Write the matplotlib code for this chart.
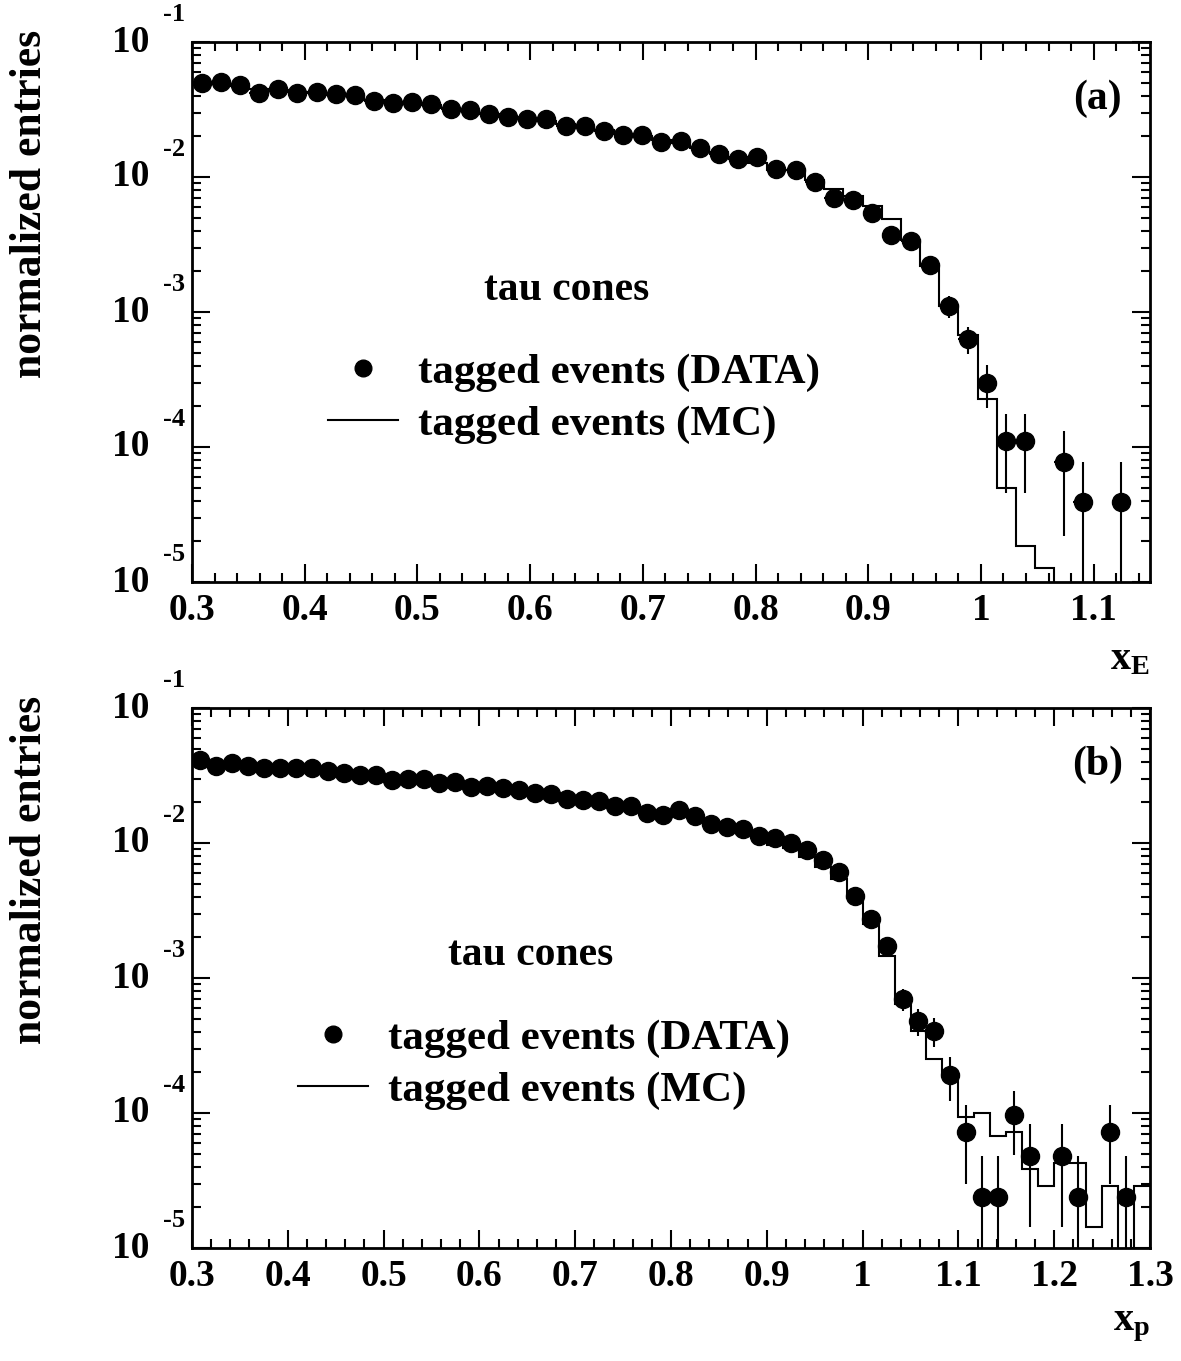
import numpy as np
import matplotlib
matplotlib.use('Agg')
import matplotlib.pyplot as plt
from matplotlib.ticker import MultipleLocator, LogLocator, NullFormatter, FormatStrFormatter
from matplotlib.lines import Line2D

plt.rcParams['font.family'] = ['Liberation Serif', 'DejaVu Serif']
plt.rcParams['font.weight'] = 'bold'
plt.rcParams['mathtext.fontset'] = 'custom'
plt.rcParams['mathtext.rm'] = 'Liberation Serif:bold'
plt.rcParams['mathtext.bf'] = 'Liberation Serif:bold'
plt.rcParams['mathtext.it'] = 'Liberation Serif:bold'

nan = np.nan

# panel (a): x_E, 50 bins from 0.3 to 1.15
xe_edges = np.linspace(0.3, 1.15, 51)
xe_data = [0.0494, 0.0508, 0.0480, 0.0421, 0.0449, 0.0417, 0.0427, 0.0412, 0.0405, 0.0367,
           0.0352, 0.0361, 0.0347, 0.0317, 0.0313, 0.0291, 0.0277, 0.0268, 0.0269, 0.0240,
           0.0239, 0.0220, 0.0205, 0.0205, 0.0183, 0.0184, 0.0163, 0.0147, 0.0136, 0.0141,
           0.0115, 0.0113, 0.0092, 0.0070, 0.0068, 0.0054, 0.00372, 0.00338, 0.00223, 0.00111,
           0.00063, 0.00030, 1.11e-4, 1.11e-4, nan, 7.7e-5, 3.9e-5, nan, 3.9e-5, nan]
xe_err = [1.4e-3, 1.4e-3, 1.37e-3, 1.28e-3, 1.32e-3, 1.27e-3, 1.29e-3, 1.27e-3, 1.26e-3, 1.2e-3,
          1.17e-3, 1.19e-3, 1.16e-3, 1.11e-3, 1.1e-3, 1.07e-3, 1.04e-3, 1.02e-3, 1.02e-3, 0.97e-3,
          0.97e-3, 0.93e-3, 0.89e-3, 0.89e-3, 0.84e-3, 0.85e-3, 0.80e-3, 0.76e-3, 0.73e-3, 0.74e-3,
          0.67e-3, 0.66e-3, 0.60e-3, 0.52e-3, 0.51e-3, 0.46e-3, 0.38e-3, 0.36e-3, 0.29e-3, 0.2e-3,
          1.45e-4, 1.05e-4, 6.5e-5, 6.5e-5, 0, 5.5e-5, 3.9e-5, 0, 3.9e-5, 0]
xe_mc = [0.0497, 0.0490, 0.0472, 0.0450, 0.0440, 0.0428, 0.0420, 0.0408, 0.0395, 0.0375,
         0.0360, 0.0352, 0.0340, 0.0322, 0.0310, 0.0293, 0.0280, 0.0270, 0.0262, 0.0246,
         0.0236, 0.0222, 0.0210, 0.0200, 0.0188, 0.0178, 0.0165, 0.0152, 0.0141, 0.0126,
         0.0113, 0.0113, 0.0095, 0.0081, 0.0072, 0.0061, 0.0049, 0.0034, 0.0022, 0.0011,
         0.00068, 2.25e-4, 4.94e-5, 1.86e-5, 1.26e-5, 0, 0, 0, 0, 0]

# panel (b): x_p, 60 bins from 0.3 to 1.3
xp_edges = np.linspace(0.3, 1.3, 61)
xp_data = [0.0412, 0.0374, 0.0389, 0.0374, 0.0357, 0.0357, 0.0357, 0.0357, 0.0341, 0.0332,
           0.0319, 0.0319, 0.0293, 0.0298, 0.0298, 0.0277, 0.0284, 0.0261, 0.0264, 0.0254,
           0.0247, 0.0236, 0.0229, 0.0211, 0.0208, 0.0205, 0.0188, 0.0188, 0.0166, 0.0162,
           0.0176, 0.0158, 0.01375, 0.0132, 0.0126, 0.01127, 0.01084, 0.01005, 0.00887, 0.00742,
           0.0061, 0.00405, 0.00274, 0.00172, 6.97e-4, 4.8e-4, 4.06e-4, 1.91e-4, 7.2e-5, 2.4e-5,
           2.4e-5, 9.66e-5, 4.83e-5, nan, 4.83e-5, 2.4e-5, nan, 7.2e-5, 2.4e-5, nan]
xp_err = [9.9e-4, 9.5e-4, 9.7e-4, 9.5e-4, 9.3e-4, 9.3e-4, 9.3e-4, 9.3e-4, 9.0e-4, 8.9e-4,
          8.7e-4, 8.7e-4, 8.4e-4, 8.5e-4, 8.5e-4, 8.2e-4, 8.3e-4, 7.9e-4, 8.0e-4, 7.8e-4,
          7.7e-4, 7.5e-4, 7.4e-4, 7.1e-4, 7.1e-4, 7.0e-4, 6.7e-4, 6.7e-4, 6.3e-4, 6.2e-4,
          6.5e-4, 6.2e-4, 5.7e-4, 5.6e-4, 5.5e-4, 5.2e-4, 5.1e-4, 4.9e-4, 4.6e-4, 4.2e-4,
          3.8e-4, 3.1e-4, 2.6e-4, 2.0e-4, 1.28e-4, 1.05e-4, 9.8e-5, 6.8e-5, 4.2e-5, 2.4e-5,
          2.4e-5, 4.8e-5, 3.4e-5, 0, 3.4e-5, 2.4e-5, 0, 4.2e-5, 2.4e-5, 0]
xp_mc = [0.0400, 0.0385, 0.0380, 0.0372, 0.0365, 0.0360, 0.0355, 0.0350, 0.0342, 0.0333,
         0.0322, 0.0312, 0.0302, 0.0296, 0.0290, 0.0281, 0.0274, 0.0266, 0.0260, 0.0252,
         0.0245, 0.0236, 0.0228, 0.0216, 0.0209, 0.0200, 0.0190, 0.0182, 0.0172, 0.0166,
         0.0160, 0.0152, 0.0137, 0.0130, 0.0122, 0.0110, 0.00966, 0.00914, 0.00792, 0.00667,
         0.00538, 0.00389, 0.00252, 0.001455, 6.4e-4, 4.06e-4, 2.5e-4, 1.96e-4, 9.4e-5, 9.95e-5,
         6.7e-5, 7.2e-5, 3.84e-5, 2.88e-5, 4.29e-5, 4.29e-5, 1.44e-5, 2.88e-5, 0, 2.88e-5]

W, H = 1181, 1361
fig = plt.figure(figsize=(W / 100, H / 100), dpi=100)


def draw_panel(rect, edges, data, err, mc, xmax, tag, xtitle, tau_pos, leg_pos, title_y):
    ax = fig.add_axes(rect)
    edges = np.asarray(edges)
    centers = 0.5 * (edges[1:] + edges[:-1])
    half = 0.5 * (edges[1] - edges[0])
    data = np.asarray(data, dtype=float)
    err = np.asarray(err, dtype=float)
    lo = np.minimum(err, data * 0.99999)

    ax.stairs(mc, edges, baseline=None, color='black', lw=1.5)
    ok = ~np.isnan(data)
    ax.errorbar(centers[ok], data[ok], yerr=[lo[ok], err[ok]], xerr=half,
                fmt='o', ms=13, color='black', elinewidth=1.5, capsize=0)

    ax.set_yscale('log')
    ax.set_ylim(1e-5, 1e-1)
    ax.set_xlim(0.3, xmax)

    ax.xaxis.set_major_locator(MultipleLocator(0.1))
    ax.xaxis.set_minor_locator(MultipleLocator(0.02))
    ax.xaxis.set_major_formatter(FormatStrFormatter('%g'))
    ax.yaxis.set_major_locator(LogLocator(base=10, numticks=10))
    ax.yaxis.set_minor_locator(LogLocator(base=10, subs=np.arange(2, 10), numticks=20))
    ax.yaxis.set_minor_formatter(NullFormatter())
    ax.set_yticklabels([])
    ax.tick_params(which='both', direction='in', top=True, right=True, width=1.5)
    ax.tick_params(which='major', length=13, labelsize=27, pad=8)
    ax.tick_params(which='minor', length=6.5)
    for lab in ax.get_xticklabels():
        lab.set_fontweight('bold')
    for s in ax.spines.values():
        s.set_linewidth(2)

    for k in range(1, 6):
        ax.annotate('10', xy=(0, 10.0 ** -k), xycoords=('axes fraction', 'data'),
                    xytext=(-31, 0), textcoords='offset points',
                    ha='right', va='center', fontsize=27, fontweight='bold')
        ax.annotate('-%d' % k, xy=(0, 10.0 ** -k), xycoords=('axes fraction', 'data'),
                    xytext=(-21, 20), textcoords='offset points',
                    ha='left', va='center', fontsize=19, fontweight='bold')

    ax.text(0.945, 0.895, tag, transform=ax.transAxes, ha='center', va='center',
            fontsize=30, fontweight='bold')
    ax.text(tau_pos[0], tau_pos[1], 'tau cones', transform=ax.transAxes,
            ha='center', va='center', fontsize=30, fontweight='bold')

    handles = [Line2D([], [], marker='o', ls='none', color='black', ms=12),
               Line2D([], [], color='black', lw=1.5)]
    ax.legend(handles, ['tagged events (DATA)', 'tagged events (MC)'],
              loc='upper left', bbox_to_anchor=leg_pos, frameon=False,
              prop={'family': 'Liberation Serif', 'weight': 'bold', 'size': 31},
              handlelength=1.62, handletextpad=0.46, labelspacing=0.31,
              borderpad=0, borderaxespad=0)

    fig.text(1150 / W, 1 - title_y / H, xtitle, ha='right', va='center',
             fontsize=29, fontweight='bold')
    top_px = (1 - (rect[1] + rect[3])) * H
    fig.text(30 / W, 1 - (top_px - 12) / H, 'normalized entries', rotation=90,
             ha='center', va='top', fontsize=31.5, fontweight='bold')
    return ax


ax1 = draw_panel([192 / W, 1 - 582 / H, 958 / W, 540 / H], xe_edges, xe_data, xe_err, xe_mc,
                 1.15, '(a)', r'$\mathbf{x_{E}}$', (0.391, 0.541), (0.142, 0.425), 660)
ax2 = draw_panel([192 / W, 1 - 1248 / H, 958 / W, 540 / H], xp_edges, xp_data, xp_err, xp_mc,
                 1.3, '(b)', r'$\mathbf{x_{p}}$', (0.353, 0.543), (0.111, 0.425), 1325)

fig.savefig('out.png', dpi=100)
